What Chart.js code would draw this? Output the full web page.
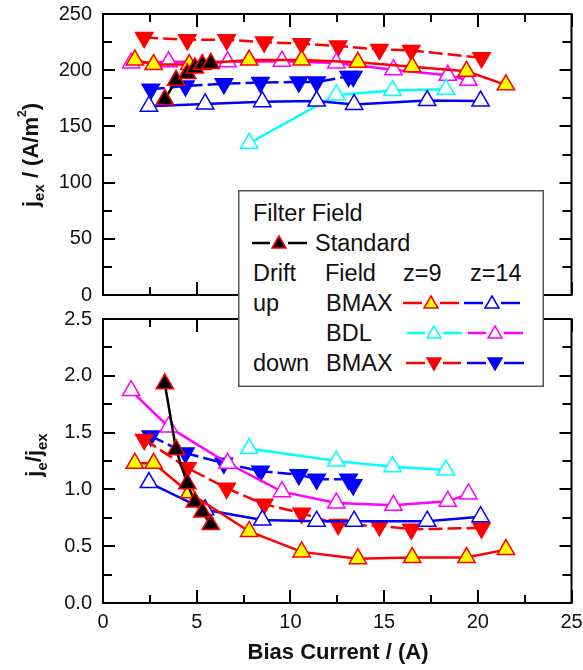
<!DOCTYPE html>
<html>
<head>
<meta charset="utf-8">
<script src="https://cdn.jsdelivr.net/npm/chart.js@4.4.0/dist/chart.umd.min.js"></script>
<style>
  body { margin: 0; background: #fff; }
  #wrap { position: relative; width: 583px; height: 670px; overflow: hidden; }
  canvas { position: absolute; left: 0; }
  #top { top: 0; }
  #bot { top: 290px; }
  #legend { position: absolute; left: 238px; top: 190px; }
</style>
</head>
<body>
<div id="wrap">
  <canvas id="top" width="583" height="320" style="width:583px;height:320px"></canvas>
  <canvas id="bot" width="583" height="380" style="width:583px;height:380px"></canvas>
  <svg id="legend" width="306" height="197" xmlns="http://www.w3.org/2000/svg"
       font-family="Liberation Sans, Arial, sans-serif" font-size="23.5" fill="#111"></svg>
</div>
<script>
// bias current (A), j_ex (A/m^2) and je/jex for each run
const xStd = [3.3, 3.9, 4.5, 4.9, 5.3, 5.75];
const jexStd = [174, 191, 197, 202, 205, 206];
const ratioStd = [1.93, 1.35, 1.05, 0.89, 0.80, 0.69];

const xUpBmax9 = [1.7, 2.7, 4.6, 7.8, 10.6, 13.6, 16.5, 19.4, 21.5];
const jexUpBmax9 = [209, 205, 205, 209, 209, 207, 203, 199, 187];
const ratioUpBmax9 = [1.23, 1.23, 0.97, 0.63, 0.45, 0.39, 0.40, 0.40, 0.47];

const xUpBmax14 = [2.45, 5.45, 8.5, 11.4, 13.4, 17.3, 20.15];
const jexUpBmax14 = [168, 170, 172, 172.5, 169.5, 173, 172.5];
const ratioUpBmax14 = [1.06, 0.82, 0.73, 0.72, 0.72, 0.72, 0.76];

const xUpBdl9 = [7.8, 12.45, 15.45, 18.3];
const jexUpBdl9 = [135, 178, 182, 183];
const ratioUpBdl9 = [1.36, 1.25, 1.2, 1.17];

const xUpBdl14 = [1.5, 3.5, 6.65, 9.55, 12.45, 15.5, 18.4, 19.5];
const jexUpBdl14 = [206.5, 207.5, 207.5, 208, 206.5, 200.5, 195.5, 191];
const ratioUpBdl14 = [1.87, 1.55, 1.23, 0.98, 0.88, 0.86, 0.895, 0.96];

const xDownBmax9 = [2.2, 4.5, 6.6, 8.6, 10.6, 12.55, 14.75, 16.45, 20.2];
const jexDownBmax9 = [229, 227, 227, 225, 223.5, 221.5, 218.5, 217.5, 211];
const ratioDownBmax9 = [1.44, 1.19, 1.01, 0.87, 0.79, 0.69, 0.68, 0.65, 0.66];

const xDownBmax14 = [2.55, 4.4, 6.45, 8.4, 10.45, 11.4, 13.1, 13.35];
const jexDownBmax14 = [183, 186, 188, 189, 189.5, 189.5, 194.5, 194.5];
const ratioDownBmax14 = [1.47, 1.32, 1.23, 1.16, 1.13, 1.09, 1.09, 1.04];

const xTicks = [0, 5, 10, 15, 20, 25];
const jexTicks = [0, 50, 100, 150, 200, 250];
const ratioTicks = [0, 0.5, 1.0, 1.5, 2.0, 2.5];

const FONT = "'Liberation Sans', Arial, sans-serif";
Chart.defaults.font.family = FONT;
Chart.defaults.color = '#111';

const series = [
  { xs: xStd, top: jexStd, bot: ratioStd, line: '#000', fill: '#000', edge: '#ff0000', down: false, dash: [] },
  { xs: xUpBmax9, top: jexUpBmax9, bot: ratioUpBmax9, line: '#ff0000', fill: '#ffff00', edge: '#ff0000', down: false, dash: [] },
  { xs: xUpBmax14, top: jexUpBmax14, bot: ratioUpBmax14, line: '#0000ff', fill: '#fff', edge: '#0000ff', down: false, dash: [] },
  { xs: xUpBdl9, top: jexUpBdl9, bot: ratioUpBdl9, line: '#00ffff', fill: '#fff', edge: '#00ffff', down: false, dash: [] },
  { xs: xUpBdl14, top: jexUpBdl14, bot: ratioUpBdl14, line: '#ff00ff', fill: '#fff', edge: '#ff00ff', down: false, dash: [] },
  { xs: xDownBmax9, top: jexDownBmax9, bot: ratioDownBmax9, line: '#ff0000', fill: '#ff0000', edge: '#ff0000', down: true, dash: [14, 5] },
  { xs: xDownBmax14, top: jexDownBmax14, bot: ratioDownBmax14, line: '#0000ff', fill: '#0000ff', edge: '#0000ff', down: true, dash: [14, 5] }
];

function makeSets(key) {
  return series.map(s => ({
    data: s.xs.map((x, i) => ({ x: x, y: s[key][i] })),
    showLine: true,
    borderColor: s.line,
    borderWidth: 2.5,
    borderDash: s.dash,
    pointStyle: 'triangle',
    pointRotation: s.down ? 180 : 0,
    pointRadius: 10,
    pointBackgroundColor: s.fill,
    pointBorderColor: s.edge,
    pointBorderWidth: 1.5
  }));
}

// box round the plot with inward ticks, as in the original
const frame = {
  id: 'frame',
  beforeDatasetsDraw(chart, args, o) {
    const { ctx, chartArea: a, scales } = chart;
    ctx.save();
    ctx.strokeStyle = '#000';
    ctx.lineWidth = 2;
    ctx.beginPath();
    for (let i = 0; i <= 10; i++) {
      const px = Math.round(scales.x.getPixelForValue(i * 2.5));
      const len = i % 2 === 0 ? 13 : 8;
      ctx.moveTo(px, a.bottom); ctx.lineTo(px, a.bottom - len);
      ctx.moveTo(px, a.top); ctx.lineTo(px, a.top + len);
    }
    for (let i = 0; i <= 10; i++) {
      const py = Math.round(scales.y.getPixelForValue(i * o.minor));
      const len = i % 2 === 0 ? 12 : 9;
      ctx.moveTo(a.left, py); ctx.lineTo(a.left + len, py);
      ctx.moveTo(a.right, py); ctx.lineTo(a.right - len, py);
    }
    ctx.stroke();
    ctx.strokeRect(a.left, a.top, a.right - a.left, a.bottom - a.top);
    ctx.restore();
  }
};

function rich(ctx, parts, cx, cy, rot) {
  ctx.save();
  ctx.translate(cx, cy);
  ctx.rotate(rot);
  ctx.fillStyle = '#111';
  ctx.textBaseline = 'alphabetic';
  let w = 0;
  parts.forEach(p => { ctx.font = p.f; w += ctx.measureText(p.t).width; });
  let x = -w / 2;
  parts.forEach(p => {
    ctx.font = p.f;
    ctx.fillText(p.t, x, p.dy);
    x += ctx.measureText(p.t).width;
  });
  ctx.restore();
}

const big = 'bold 22px ' + FONT, sub = 'bold 15px ' + FONT, sup = 'bold 12px ' + FONT;

const titles = {
  id: 'titles',
  afterDraw(chart, args, o) {
    const ctx = chart.ctx;
    o.items.forEach(it => rich(ctx, it.parts, it.x, it.y, it.rot));
  }
};

function yScale(ticks, fmt) {
  return {
    min: ticks[0], max: ticks[ticks.length - 1],
    afterBuildTicks: s => { s.ticks = ticks.map(v => ({ value: v })); },
    ticks: { font: { size: 20 }, padding: 11, callback: fmt },
    grid: { display: false, drawTicks: false },
    border: { display: false },
    afterFit: s => { s.width = 103; s.paddingTop = 0; s.paddingBottom = 0; }
  };
}

const common = {
  responsive: false,
  animation: false,
  events: [],
  plugins: { legend: { display: false }, tooltip: { enabled: false } }
};

new Chart(document.getElementById('top'), {
  type: 'scatter',
  data: { datasets: makeSets('top') },
  plugins: [frame, titles],
  options: Object.assign({}, common, {
    layout: { padding: { top: 14, right: 10, bottom: 25, left: 0 } },
    scales: {
      x: { display: false, min: 0, max: 25 },
      y: yScale(jexTicks, v => String(v))
    },
    plugins: Object.assign({}, common.plugins, {
      frame: { minor: 25 },
      titles: { items: [{ x: 30, y: 155, rot: -Math.PI / 2, parts: [
        { t: 'j', f: big, dy: 8 }, { t: 'ex', f: sub, dy: 14 },
        { t: ' / (A/m', f: big, dy: 8 }, { t: '2', f: sup, dy: -4 }, { t: ')', f: big, dy: 8 }
      ] }] }
    })
  })
});

new Chart(document.getElementById('bot'), {
  type: 'scatter',
  data: { datasets: makeSets('bot') },
  plugins: [frame, titles],
  options: Object.assign({}, common, {
    layout: { padding: { top: 29, right: 10, bottom: 0, left: 0 } },
    scales: {
      x: {
        min: 0, max: 25,
        afterBuildTicks: s => { s.ticks = xTicks.map(v => ({ value: v })); },
        ticks: { font: { size: 20 }, padding: 7, maxRotation: 0 },
        grid: { display: false, drawTicks: false },
        border: { display: false },
        afterFit: s => { s.height = 67; s.paddingLeft = 0; s.paddingRight = 0; }
      },
      y: yScale(ratioTicks, v => v.toFixed(1))
    },
    plugins: Object.assign({}, common.plugins, {
      frame: { minor: 0.25 },
      titles: { items: [
        { x: 33, y: 165, rot: -Math.PI / 2, parts: [
          { t: 'j', f: big, dy: 8 }, { t: 'e', f: sub, dy: 14 },
          { t: '/j', f: big, dy: 8 }, { t: 'ex', f: sub, dy: 14 }
        ] },
        { x: 338, y: 369, rot: 0, parts: [{ t: 'Bias Current / (A)', f: big, dy: 0 }] }
      ] }
    })
  })
});

// legend box (spans both panels)
const NS = 'http://www.w3.org/2000/svg';
const svg = document.getElementById('legend');
function el(name, attrs, text) {
  const e = document.createElementNS(NS, name);
  for (const k in attrs) e.setAttribute(k, attrs[k]);
  if (text) e.textContent = text;
  svg.appendChild(e);
}
el('rect', { x: 0.75, y: 0.75, width: 304.5, height: 195.5, fill: '#fff', stroke: '#555', 'stroke-width': 1.5 });
const texts = [
  ['Filter Field', 15, 23], ['Standard', 77, 53],
  ['Drift', 15, 83], ['Field', 87, 83], ['z=9', 165, 83], ['z=14', 232, 83],
  ['up', 15, 113], ['BMAX', 88, 113], ['BDL', 88, 143], ['down', 15, 173], ['BMAX', 88, 173]
];
texts.forEach(t => el('text', { x: t[1], y: t[2], 'dominant-baseline': 'central' }, t[0]));

function glyph(s, x0, x1, cx, cy) {
  const g = 9;
  el('line', { x1: x0, y1: cy, x2: cx - g, y2: cy, stroke: s.line, 'stroke-width': 2.5 });
  el('line', { x1: cx + g, y1: cy, x2: x1, y2: cy, stroke: s.line, 'stroke-width': 2.5 });
  const pts = s.down
    ? [[cx - 7, cy - 5], [cx + 7, cy - 5], [cx, cy + 7]]
    : [[cx, cy - 7], [cx - 7, cy + 5], [cx + 7, cy + 5]];
  el('polygon', { points: pts.map(p => p.join(',')).join(' '), fill: s.fill, stroke: s.edge, 'stroke-width': 1.5 });
}
glyph(series[0], 14, 69, 41, 53);
glyph(series[1], 165, 221, 193, 113);
glyph(series[2], 226, 282, 254, 113);
glyph(series[3], 169, 224, 196, 143);
glyph(series[4], 230, 285, 257, 143);
glyph(series[5], 168, 223, 196, 173);
glyph(series[6], 229, 286, 257, 173);
</script>
</body>
</html>
